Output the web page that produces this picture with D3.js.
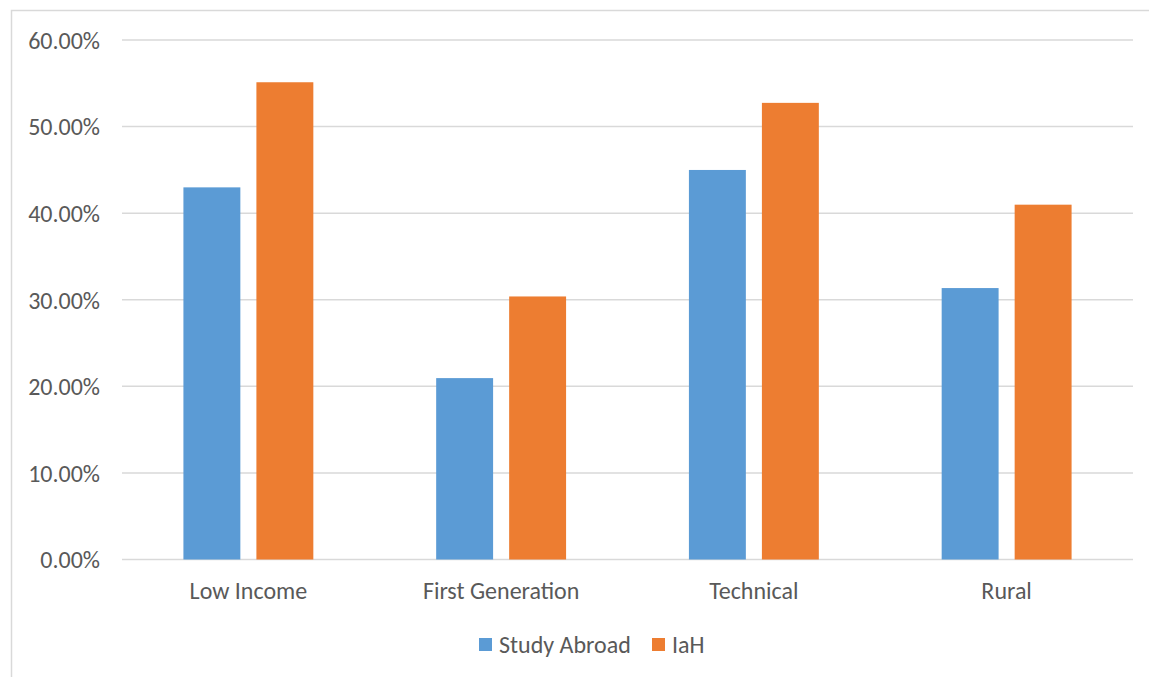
<!DOCTYPE html>
<html>
<head>
	<meta charset="utf-8">
	<script src="https://d3js.org/d3.v7.min.js"></script>
	<title>Study Abroad vs IaH</title>
	<style>
		body { margin: 0; background: #fff; }
		text { font-family: Calibri, Carlito, "Open Sans", sans-serif; fill: #595959; }
	</style>
</head>
<body>
	<div id="chart"></div>

	<script type="text/javascript">

		// input data
		var categories = ["Low Income", "First Generation", "Technical", "Rural"];
		var seriesNames = ["Study Abroad", "IaH"];
		var studyAbroad = [0.4298, 0.2095, 0.4499, 0.3135];
		var iah = [0.5512, 0.3038, 0.5274, 0.4098];
		var yTicks = [0, 0.1, 0.2, 0.3, 0.4, 0.5, 0.6];

		var colors = ["#5B9BD5", "#ED7D31"];

		var dataset = categories.map(function(c, i){
			return { cat: c, values: [studyAbroad[i], iah[i]] };
		});

		var svgwidth = 1149;
		var svgheight = 677;
		var plotLeft = 122, plotRight = 1133, plotTop = 40, plotBottom = 559.5;
		var fontSize = 24;

		var svg = d3.select("#chart").append("svg")
				.attr("width", svgwidth)
				.attr("height", svgheight);

		// chart area border (runs off the right and bottom edges)
		svg.append("rect")
			.attr("x", 11.5).attr("y", 10.5)
			.attr("width", svgwidth).attr("height", svgheight)
			.attr("fill", "none")
			.attr("stroke", "#D9D9D9")
			.attr("stroke-width", 1.5);

		var x0 = d3.scaleBand()
				.domain(categories)
				.range([plotLeft, plotRight]);

		var x1 = d3.scaleBand()
				.domain(seriesNames)
				.range([x0.bandwidth() * 0.243, x0.bandwidth() * 0.757])
				.paddingInner(0.22);

		var yScale = d3.scaleLinear()
				.domain([0, 0.6])
				.range([plotBottom, plotTop]);

		// gridlines
		svg.append("g").selectAll("line").data(yTicks).enter().append("line")
			.attr("x1", plotLeft).attr("x2", plotRight)
			.attr("y1", function(d){ return yScale(d); })
			.attr("y2", function(d){ return yScale(d); })
			.attr("stroke", "#D9D9D9")
			.attr("stroke-width", 1.5);

		// y labels
		var yAxis = d3.axisLeft(yScale).tickValues(yTicks).tickSize(0).tickPadding(0)
				.tickFormat(function(d){ return (d * 100).toFixed(2) + "%"; });
		var yg = svg.append("g").attr("transform", "translate(100,0)").call(yAxis);
		yg.select(".domain").remove();
		yg.selectAll("text").attr("font-size", fontSize).attr("dy", "0.35em")
			.style("font-family", "Calibri, Carlito, 'Open Sans', sans-serif").attr("fill", "#595959");

		// bars
		var groups = svg.selectAll(".cat").data(dataset).enter().append("g")
				.attr("class", "cat")
				.attr("transform", function(d){ return "translate(" + x0(d.cat) + ",0)"; });

		groups.selectAll("rect").data(function(d){ return d.values; }).enter().append("rect")
			.attr("x", function(d, i){ return x1(seriesNames[i]); })
			.attr("y", function(d){ return yScale(d); })
			.attr("width", x1.bandwidth())
			.attr("height", function(d){ return yScale(0) - yScale(d); })
			.attr("fill", function(d, i){ return colors[i]; });

		// x labels
		var xAxis = d3.axisBottom(x0).tickSize(0).tickPadding(0);
		var xg = svg.append("g").attr("transform", "translate(0,591)").call(xAxis);
		xg.select(".domain").remove();
		xg.selectAll("text").attr("font-size", fontSize).attr("dy", "0.35em")
			.style("font-family", "Calibri, Carlito, 'Open Sans', sans-serif").attr("fill", "#595959");

		// legend
		var legendX = [479, 652];
		var legend = svg.selectAll(".legend").data(seriesNames).enter().append("g")
				.attr("class", "legend")
				.attr("transform", function(d, i){ return "translate(" + legendX[i] + ",638)"; });
		legend.append("rect")
			.attr("width", 13).attr("height", 13)
			.attr("fill", function(d, i){ return colors[i]; });
		legend.append("text")
			.attr("x", 20).attr("y", 7)
			.attr("dy", "0.35em")
			.attr("font-size", fontSize)
			.text(function(d){ return d; });

	</script>
</body>
</html>
